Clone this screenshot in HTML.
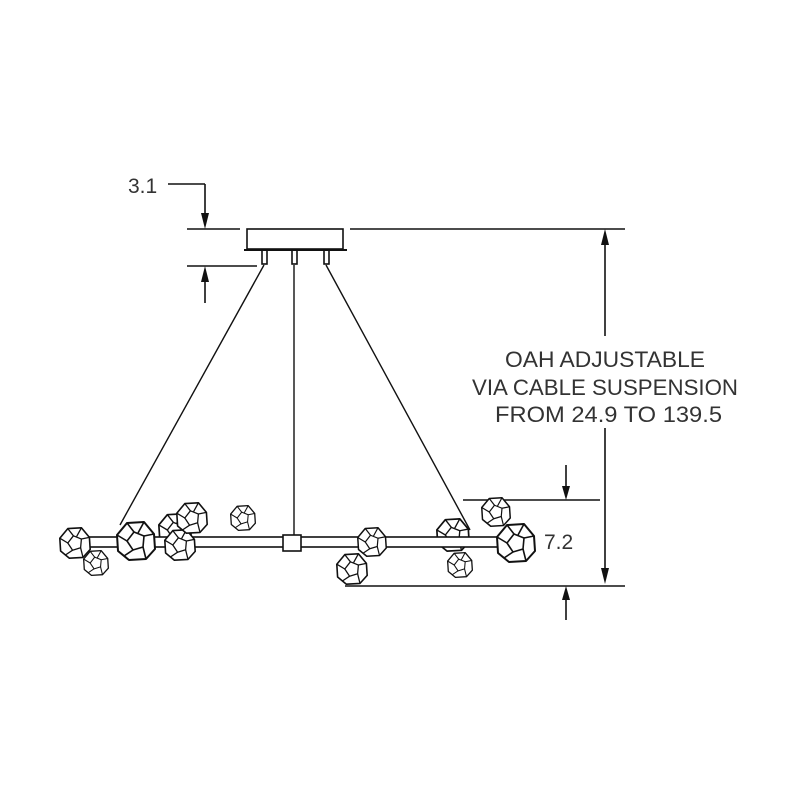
<!DOCTYPE html>
<html><head><style>body{margin:0;background:#fff}</style></head><body>
<svg width="800" height="800" viewBox="0 0 800 800" xmlns="http://www.w3.org/2000/svg">
<defs>
<g id="gem">
<polygon points="-0.45,-0.9 0.4,-0.95 0.9,-0.35 0.95,0.4 0.5,0.9 -0.35,0.95 -0.9,0.5 -0.95,-0.3" fill="#fff" stroke="#111" stroke-width="0.1" stroke-linejoin="round"/>
<polygon points="-0.1,-0.45 0.4,-0.25 0.35,0.3 -0.15,0.45 -0.45,0" fill="none" stroke="#111" stroke-width="0.08"/>
<path d="M-0.1,-0.45 L-0.45,-0.9 M0.4,-0.25 L0.9,-0.35 M0.35,0.3 L0.5,0.9 M-0.15,0.45 L-0.6,0.75 M-0.45,0 L-0.95,-0.3 M0.1,-0.4 L0.4,-0.95" fill="none" stroke="#111" stroke-width="0.08"/>
</g>
</defs>
<g stroke="#111" stroke-width="1.6" fill="none">
<line x1="187" y1="229" x2="240" y2="229"/>
<line x1="350" y1="229" x2="625" y2="229"/>
<line x1="187" y1="266" x2="257" y2="266"/>
<line x1="168" y1="184" x2="205" y2="184"/>
<line x1="205" y1="184" x2="205" y2="215"/>
<line x1="205" y1="280" x2="205" y2="303"/>
<rect x="247" y="229" width="96" height="20" fill="#fff"/>
<line x1="244" y1="250" x2="347" y2="250" stroke-width="2"/>
<rect x="262" y="250" width="5" height="14"/>
<rect x="292" y="250" width="5" height="14"/>
<rect x="324" y="250" width="5" height="14"/>
<line x1="264" y1="265" x2="120" y2="525" stroke-width="1.4"/>
<line x1="326" y1="265" x2="470" y2="530" stroke-width="1.4"/>
<line x1="294" y1="265" x2="294" y2="535" stroke-width="1.4"/>
<line x1="605" y1="243" x2="605" y2="336"/>
<line x1="605" y1="428" x2="605" y2="568"/>
<line x1="463" y1="500" x2="600" y2="500"/>
<line x1="345" y1="586" x2="625" y2="586"/>
<line x1="566" y1="465" x2="566" y2="488"/>
<line x1="566" y1="598" x2="566" y2="620"/>
</g>
<g fill="#111">
<polygon points="201,213 209,213 205,229"/>
<polygon points="201,282 209,282 205,266"/>
<polygon points="601,245 609,245 605,229"/>
<polygon points="601,568 609,568 605,584"/>
<polygon points="562,486 570,486 566,500"/>
<polygon points="562,600 570,600 566,586"/>
</g>
<use href="#gem" transform="translate(175,530) scale(17)"/>
<use href="#gem" transform="translate(453,535) scale(17)"/>
<rect x="80" y="537" width="420" height="10" fill="#fff" stroke="#111" stroke-width="1.6"/>
<rect x="283" y="535" width="18" height="16" fill="#fff" stroke="#111" stroke-width="1.6"/>
<use href="#gem" transform="translate(75,543) scale(16)"/>
<use href="#gem" transform="translate(96,563) scale(13)"/>
<use href="#gem" transform="translate(136,541) scale(20)"/>
<use href="#gem" transform="translate(180,545) scale(16)"/>
<use href="#gem" transform="translate(192,518) scale(16)"/>
<use href="#gem" transform="translate(243,518) scale(13)"/>
<use href="#gem" transform="translate(372,542) scale(15)"/>
<use href="#gem" transform="translate(352,569) scale(16)"/>
<use href="#gem" transform="translate(460,565) scale(13)"/>
<use href="#gem" transform="translate(496,512) scale(15)"/>
<use href="#gem" transform="translate(516,543) scale(20)"/>
<g font-family="Liberation Sans, sans-serif" fill="#333" font-size="22">
<text x="128" y="193" font-size="21">3.1</text>
<text x="544" y="549" font-size="21">7.2</text>
<text x="505" y="367" textLength="200" lengthAdjust="spacingAndGlyphs">OAH ADJUSTABLE</text>
<text x="472" y="395" textLength="266" lengthAdjust="spacingAndGlyphs">VIA CABLE SUSPENSION</text>
<text x="495" y="422" textLength="227" lengthAdjust="spacingAndGlyphs">FROM 24.9 TO 139.5</text>
</g>
</svg>
</body></html>
